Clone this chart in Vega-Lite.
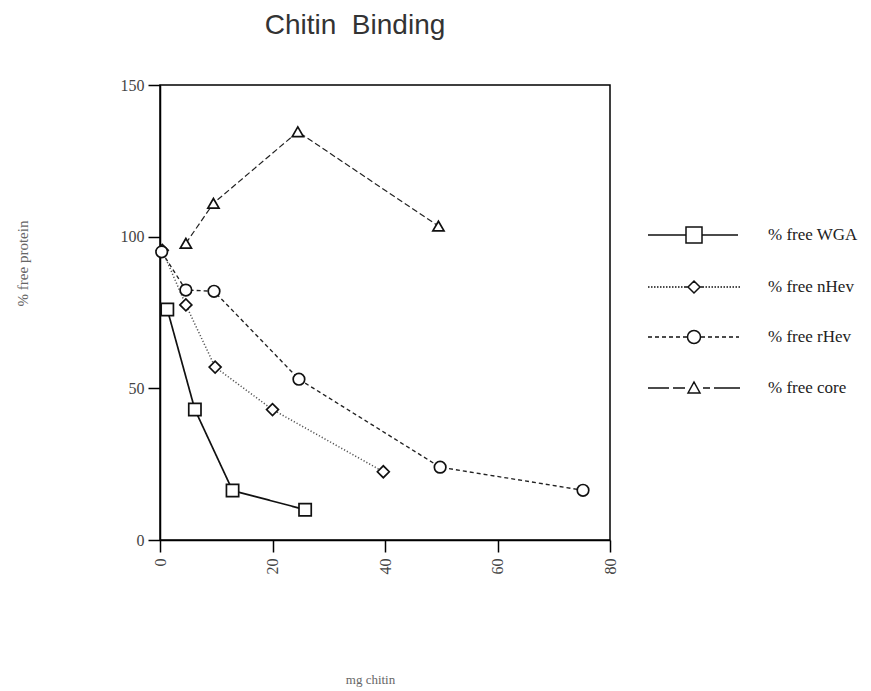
{
  "$schema": "https://vega.github.io/schema/vega-lite/v6.json",
  "autosize": {"type": "none"},
  "padding": {"left": 160, "top": 85, "right": 260, "bottom": 151},
  "width": 450,
  "height": 455,
  "background": "white",
  "title": {
    "text": "Chitin\u00a0 Binding",
    "font": "Liberation Sans",
    "fontSize": 28,
    "fontWeight": "normal",
    "color": "#333333",
    "anchor": "middle",
    "frame": "group",
    "dx": -30,
    "offset": 15,
    "baseline": "alphabetic"
  },
  "config": {
    "view": {"stroke": "black", "strokeWidth": 1.5},
    "axis": {
      "grid": false,
      "domainColor": "black",
      "domainWidth": 1.5,
      "tickColor": "black",
      "tickWidth": 1.5,
      "tickSize": 12,
      "labelFont": "Liberation Serif",
      "labelFontSize": 16,
      "labelColor": "#444444",
      "titleFont": "Liberation Serif",
      "titleFontSize": 13,
      "titleFontWeight": "normal",
      "titleColor": "#666666"
    }
  },
  "data": {
    "values": [
      {"series": "WGA", "x": 1.3, "y": 76},
      {"series": "WGA", "x": 6.2, "y": 43},
      {"series": "WGA", "x": 12.9, "y": 16.3},
      {"series": "WGA", "x": 25.8, "y": 10},
      {"series": "nHev", "x": 0.4, "y": 95.5},
      {"series": "nHev", "x": 4.6, "y": 77.5},
      {"series": "nHev", "x": 9.8, "y": 57},
      {"series": "nHev", "x": 20, "y": 43},
      {"series": "nHev", "x": 39.7, "y": 22.5},
      {"series": "rHev", "x": 0.3, "y": 95},
      {"series": "rHev", "x": 4.6, "y": 82.4},
      {"series": "rHev", "x": 9.6, "y": 82},
      {"series": "rHev", "x": 24.7, "y": 53},
      {"series": "rHev", "x": 49.8, "y": 24},
      {"series": "rHev", "x": 75.2, "y": 16.4},
      {"series": "core", "x": 4.6, "y": 97.8},
      {"series": "core", "x": 9.5, "y": 111},
      {"series": "core", "x": 24.5, "y": 134.6},
      {"series": "core", "x": 49.5, "y": 103.5}
    ]
  },
  "encoding": {
    "x": {
      "field": "x",
      "type": "quantitative",
      "scale": {"domain": [0, 80], "nice": false},
      "axis": {
        "values": [0, 20, 40, 60, 80],
        "labelAngle": -90,
        "labelPadding": 6,
        "title": "mg chitin",
        "titleX": 210,
        "titleY": 139,
        "titleBaseline": "middle",
        "titleAnchor": "middle",
        "titleAlign": "center"
      }
    },
    "y": {
      "field": "y",
      "type": "quantitative",
      "scale": {"domain": [0, 150], "nice": false},
      "axis": {
        "values": [0, 50, 100, 150],
        "labelPadding": 4,
        "title": "% free protein",
        "titleFontSize": 15,
        "titleX": -138,
        "titleY": 178,
        "titleBaseline": "middle",
        "titleAlign": "center",
        "titleAngle": -90
      }
    }
  },
  "layer": [
    {
      "mark": {"type": "line"},
      "encoding": {
        "detail": {"field": "series"},
        "strokeDash": {
          "field": "series",
          "type": "nominal",
          "scale": {"domain": ["WGA", "nHev", "rHev", "core"], "range": [[1, 0], [1.2, 2], [4, 3], [6, 3]]},
          "legend": null
        },
        "color": {
          "field": "series",
          "type": "nominal",
          "scale": {"domain": ["WGA", "nHev", "rHev", "core"], "range": ["#111111", "#555555", "#222222", "#222222"]},
          "legend": null
        },
        "strokeWidth": {
          "field": "series",
          "type": "nominal",
          "scale": {"domain": ["WGA", "nHev", "rHev", "core"], "range": [1.7, 1.2, 1.7, 2]},
          "legend": null
        }
      }
    },
    {
      "mark": {"type": "point", "filled": true, "fill": "white", "stroke": "#111111", "strokeWidth": 1.7, "opacity": 1},
      "encoding": {
        "shape": {
          "field": "series",
          "type": "nominal",
          "scale": {"domain": ["WGA", "nHev", "rHev", "core"], "range": ["square", "diamond", "circle", "triangle-up"]},
          "legend": null
        },
        "size": {
          "field": "series",
          "type": "nominal",
          "scale": {"domain": ["WGA", "nHev", "rHev", "core"], "range": [150, 125, 160, 190]},
          "legend": null
        }
      }
    },
    {
      "transform": [{"filter": "datum.x < -100"}],
      "mark": {"type": "point", "filled": false, "stroke": "#111111", "strokeWidth": 1.5, "size": 400, "opacity": 1},
      "encoding": {
        "shape": {
          "field": "series",
          "type": "nominal",
          "scale": {
            "domain": ["WGA", "nHev", "rHev", "core"],
            "range": [
              "M-4.6,0H-0.8M0.8,0H4.4M-0.8,-0.8H0.8V0.8H-0.8Z",
              "M-4.6,0H-4.45M-4.3,0H-4.15M-4,0H-3.85M-3.7,0H-3.55M-3.4,0H-3.25M-3.1,0H-2.95M-2.8,0H-2.65M-2.5,0H-2.35M-2.2,0H-2.05M-1.9,0H-1.75M-1.6,0H-1.45M-1.3,0H-1.15M-1,0H-0.6M0.6,0H1M1.15,0H1.3M1.45,0H1.6M1.75,0H1.9M2.05,0H2.2M2.35,0H2.5M2.65,0H2.8M2.95,0H3.1M3.25,0H3.4M3.55,0H3.7M3.85,0H4M4.15,0H4.3M4.45,0H4.6M-0.6,0L0,-0.6L0.6,0L0,0.6Z",
              "M-4.6,0H-4.2M-3.9,0H-3.5M-3.2,0H-2.8M-2.5,0H-2.1M-1.8,0H-1.4M-1.1,0H-0.65M0.65,0H1.1M1.4,0H1.8M2.1,0H2.5M2.8,0H3.2M3.5,0H3.9M4.2,0H4.5M-0.65,0A0.65,0.65 0 1,0 0.65,0A0.65,0.65 0 1,0 -0.65,0Z",
              "M-4.6,0H-2.5M-2.1,0H-0.9M0.9,0H1.6M2.0,0H4.6M-0.6,0.5L0,-0.6L0.6,0.5Z"
            ]
          },
          "legend": {
            "title": null,
            "orient": "none",
            "legendX": 523,
            "legendY": 139,
            "padding": 0,
            "symbolSize": 400,
            "symbolStrokeWidth": 1.5,
            "symbolFillColor": "white",
            "symbolStrokeColor": "#111111",
            "symbolOpacity": 1,
            "rowPadding": 30,
            "labelOffset": 63,
            "labelFont": "Liberation Serif",
            "labelFontSize": 17,
            "labelColor": "#222222",
            "labelExpr": "'% free ' + datum.label",
            "encode": {
              "symbols": {
                "update": {
                  "stroke": {"value": "#111111"},
                  "fill": {"value": "white"},
                  "strokeWidth": {"value": 1.5},
                  "opacity": {"value": 1}
                }
              }
            }
          }
        }
      }
    }
  ],
  "resolve": {"scale": {"shape": "independent"}}
}
